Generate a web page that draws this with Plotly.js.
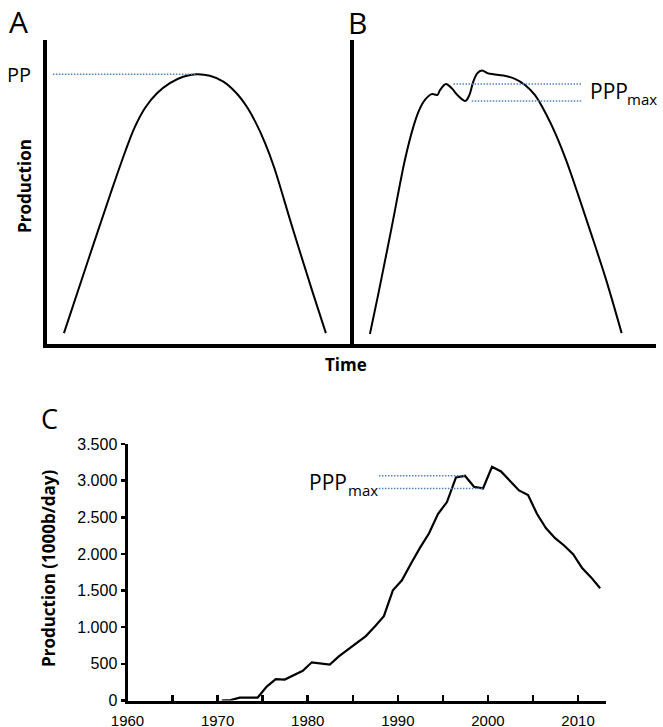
<!DOCTYPE html>
<html><head><meta charset="utf-8">
<script src="https://cdn.plot.ly/plotly-3.0.1.min.js"></script>
<style>html,body{margin:0;padding:0;background:#fff}</style>
</head><body><div id="chart" style="width:663px;height:727px"></div>
<script>
// Panel A: schematic single-peak production curve (normalised time / production units)
const aTime = [6.2, 14.1, 21.4, 26.1, 29.3, 32.6, 36.5, 40.7, 45.0, 49.4, 53.7, 58.1, 62.4, 65.8, 68.7, 71.7, 74.6, 80.5, 87.3, 91.5];
const aProd = [4.2, 28.1, 49.9, 63.4, 71.6, 77.8, 82.6, 85.9, 88.0, 88.8, 88.3, 86.4, 82.6, 78.1, 72.9, 66.3, 58.5, 39.0, 17.2, 4.2];

// Panel B: schematic multi-peak production curve
const bTime = [5.9, 8.7, 13.1, 17.4, 20.2, 22.1, 24.0, 26.2, 28.1, 29.0, 30.9, 32.8, 35.0, 37.3, 38.6, 39.9, 41.2, 42.7, 44.8, 46.5, 49.8, 53.6, 56.9, 60.2, 64.0, 67.1, 70.4, 74.3, 78.6, 83.6, 88.7];
const bProd = [3.9, 17.2, 39.0, 60.8, 71.7, 77.1, 80.4, 82.3, 82.1, 83.7, 85.6, 84.2, 81.7, 80.1, 82.0, 86.4, 89.1, 90.0, 89.1, 88.8, 88.4, 87.3, 85.3, 82.0, 75.5, 69.0, 60.8, 49.7, 36.9, 21.6, 4.2];

// Panel C: production (1000 b/day) per year
const years = [1970,1971,1972,1973,1974,1975,1976,1977,1978,1979,
               1980,1981,1982,1983,1984,1985,1986,1987,1988,1989,
               1990,1991,1992,1993,1994,1995,1996,1997,1998,1999,
               2000,2001,2002,2003,2004,2005,2006,2007,2008,2009,
               2010,2011,2012];
const production = [0,5,38,40,40,190,292,285,350,405,
                    521,503,489,602,693,793,879,1010,1150,1504,
                    1640,1866,2083,2278,2545,2708,3043,3066,2917,2894,
                    3188,3125,2998,2867,2803,2545,2350,2215,2115,1997,
                    1807,1680,1531];

const W = 663, H = 727;
const px = v => v / W, py = v => 1 - v / H;
const FONT = 'Open Sans';
const TICKFONT = 'Liberation Sans';
// each annual value is plotted at mid-category (Excel style)
const xPos = years.map(y => y + 0.45);

const aPeakIdx = aProd.indexOf(Math.max(...aProd));
const bLocalPeakIdx = 10, bLocalMinIdx = 13;
const cPeak = years.indexOf(1997), cMin = years.indexOf(1999);

const dotted = {color: '#4f81bd', width: 1.5, dash: '1.5px,1.5px'};

const traces = [
  {x: aTime, y: aProd, xaxis: 'x', yaxis: 'y', mode: 'lines', line: {color: '#000', width: 2, shape: 'spline', smoothing: 1}, hoverinfo: 'skip'},
  {x: bTime, y: bProd, xaxis: 'x2', yaxis: 'y2', mode: 'lines', line: {color: '#000', width: 2, shape: 'spline', smoothing: 1}, hoverinfo: 'skip'},
  {x: xPos, y: production, xaxis: 'x3', yaxis: 'y3', mode: 'lines', line: {color: '#000', width: 2.2}, hoverinfo: 'skip'}
];

const schematicAxis = {showline: true, linewidth: 3.5, linecolor: '#000', showticklabels: false, ticks: '', showgrid: false, zeroline: false, fixedrange: true};

const layout = {
  width: W, height: H,
  margin: {l: 0, r: 0, t: 0, b: 0},
  paper_bgcolor: '#fff', plot_bgcolor: 'rgba(0,0,0,0)',
  showlegend: false,
  separators: ',.',
  font: {family: FONT, color: '#000'},
  xaxis:  Object.assign({}, schematicAxis, {domain: [px(46.75), px(352)], range: [0.6, 100], anchor: 'y'}),
  yaxis:  Object.assign({}, schematicAxis, {domain: [py(344.25), py(40)], range: [0.57, 100], anchor: 'x'}),
  xaxis2: Object.assign({}, schematicAxis, {domain: [px(353.75), px(656)], range: [0.58, 100], anchor: 'y2'}),
  yaxis2: Object.assign({}, schematicAxis, {domain: [py(344.25), py(40)], range: [0.57, 100], anchor: 'x2'}),
  xaxis3: {
    domain: [px(127.5), px(606)], range: [1960, 2013.1], anchor: 'y3',
    showline: true, linewidth: 3, linecolor: '#000', showgrid: false, zeroline: false,
    tickmode: 'linear', tick0: 1960, dtick: 10, ticks: 'inside', ticklen: 6, tickwidth: 2.5, tickcolor: '#000',
    tickformat: 'd', tickfont: {family: TICKFONT, size: 15, color: '#000'}, ticklabelstandoff: 4,
    minor: {tick0: 1960, dtick: 5, ticks: 'inside', ticklen: 6, tickwidth: 2.5, tickcolor: '#000', showgrid: false},
    fixedrange: true
  },
  yaxis3: {
    domain: [py(700.5), py(444)], range: [0, 3500], anchor: 'x3',
    showline: true, linewidth: 3, linecolor: '#000', showgrid: false, zeroline: false,
    tickmode: 'linear', tick0: 0, dtick: 500, ticks: 'outside', ticklen: 4, tickwidth: 2.5, tickcolor: '#000',
    tickformat: ',d', tickfont: {family: TICKFONT, size: 16, color: '#000'},
    fixedrange: true
  },
  shapes: [
    {type: 'line', xref: 'x', yref: 'y', x0: 2.6, x1: aTime[aPeakIdx], y0: aProd[aPeakIdx], y1: aProd[aPeakIdx], line: dotted},
    {type: 'line', xref: 'x2', yref: 'y2', x0: 33.4, x1: 75.6, y0: bProd[bLocalPeakIdx], y1: bProd[bLocalPeakIdx], line: dotted},
    {type: 'line', xref: 'x2', yref: 'y2', x0: 39.4, x1: 75.4, y0: bProd[bLocalMinIdx], y1: bProd[bLocalMinIdx], line: dotted},
    {type: 'line', xref: 'x3', yref: 'y3', x0: 1987.9, x1: xPos[cPeak], y0: production[cPeak], y1: production[cPeak], line: dotted},
    {type: 'line', xref: 'x3', yref: 'y3', x0: 1987.9, x1: xPos[cMin], y0: production[cMin], y1: production[cMin], line: dotted}
  ],
  annotations: [
    {text: 'A', x: px(18), y: py(21), font: {family: FONT, size: 30, color: '#000'}},
    {text: 'B', x: px(357.5), y: py(22), font: {family: FONT, size: 30, color: '#000'}},
    {text: 'C', x: px(49.6), y: py(418.5), font: {family: FONT, size: 27, color: '#000'}},
    {text: 'PP', x: px(19), y: py(75), font: {family: FONT, size: 20, color: '#000'}},
    {text: '<b>Production</b>', textangle: -90, x: px(24), y: py(186), font: {family: FONT, size: 17, color: '#000'}},
    {text: '<b>Time</b>', x: px(346), y: py(364), font: {family: FONT, size: 17, color: '#000'}},
    {text: 'PPP', xanchor: 'left', x: px(588), y: py(90.5), font: {family: FONT, size: 21, color: '#000'}},
    {text: 'max', xanchor: 'left', x: px(625), y: py(99.2), font: {family: FONT, size: 15, color: '#000'}},
    {text: 'PPP', xanchor: 'left', x: px(307), y: py(481.5), font: {family: FONT, size: 21, color: '#000'}},
    {text: 'max', xanchor: 'left', x: px(346), y: py(490), font: {family: FONT, size: 15, color: '#000'}},
    {text: '<b>Production (1000b/day)</b>', textangle: -90, x: px(48), y: py(569), font: {family: FONT, size: 17, color: '#000'}}
  ].map(a => Object.assign({xref: 'paper', yref: 'paper', showarrow: false, xanchor: 'center', yanchor: 'middle'}, a))
};

Plotly.newPlot('chart', traces, layout, {staticPlot: true, displayModeBar: false});
</script></body></html>
